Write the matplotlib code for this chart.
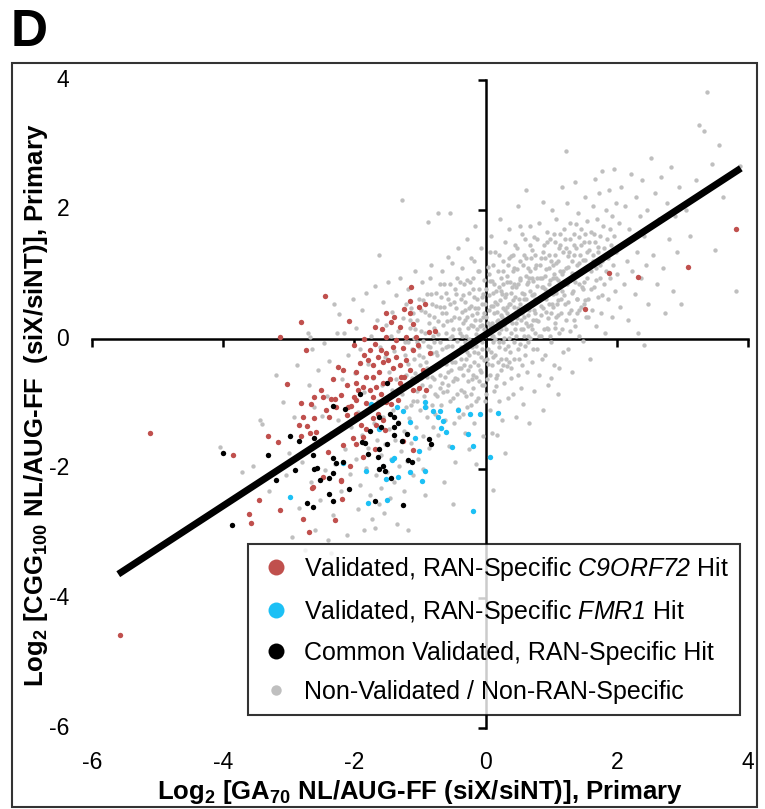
import numpy as np
import matplotlib
matplotlib.use("Agg")
import matplotlib.pyplot as plt
from matplotlib.lines import Line2D
from matplotlib.patches import Rectangle

plt.rcParams['font.family'] = 'Liberation Sans'
plt.rcParams['mathtext.fontset'] = 'custom'
plt.rcParams['mathtext.rm'] = 'Liberation Sans'
plt.rcParams['mathtext.sf'] = 'Liberation Sans:italic'   # used for italic gene names (digits too)
plt.rcParams['mathtext.bf'] = 'Liberation Sans:bold'

#%% Data (log2 ratios)
ticks = [-6, -4, -2, 0, 2, 4]

# linear fit drawn across the data range
fit_slope = 0.66
fit_intercept = 0.07
fit_x = [-5.60, 3.89]

red_pts = [
    (-2.45, 0.67), (-2.82, 0.27), (-2.09, 0.28), (-3.13, 0.04), (-2.74, -0.17), (-1.14, 0.80),
    (-1.15, 0.59), (-1.25, 0.47), (-1.52, 0.41), (-1.40, 0.35), (-1.15, 0.41), (-1.02, 0.49),
    (-0.93, 0.55), (-1.58, 0.16), (-1.68, 0.19), (-1.11, 0.23), (-0.87, 0.11), (-0.77, 0.12),
    (-1.86, -0.00), (-2.00, -0.09), (-1.52, 0.03), (-1.06, 0.03), (-1.03, -0.09), (-3.03, -0.69),
    (-3.32, -1.49), (-3.16, -1.58), (-3.85, -1.79), (-3.45, -2.48), (-3.60, -2.69), (-3.57, -2.84),
    (-3.13, -2.63), (-2.79, -2.77), (-2.29, -2.79), (-2.81, -0.98), (-2.66, -1.00), (-2.51, -0.79),
    (-2.48, -0.89), (-2.61, -0.89), (-2.79, -1.20), (-2.61, -1.22), (-2.73, -1.34), (-2.84, -1.33),
    (-2.58, -1.43), (-2.68, -1.45), (-2.81, -1.50), (-2.43, -1.10), (-2.33, -0.62), (-2.25, -0.43),
    (-2.12, -0.71), (-2.20, -0.86), (-2.30, -0.92), (-2.28, -1.04), (-2.38, -1.20), (-2.12, -1.17),
    (-2.05, -1.03), (-2.01, -0.89), (-1.98, -0.68), (-1.98, -0.50), (-1.92, -0.37), (-1.85, -0.25),
    (-1.77, -0.17), (-1.79, -0.32), (-1.72, -0.40), (-1.64, -0.27), (-1.57, -0.35), (-1.62, -0.50),
    (-1.72, -0.58), (-1.82, -0.58), (-1.87, -0.74), (-1.77, -0.79), (-1.67, -0.74), (-1.57, -0.68),
    (-1.46, -0.61), (-1.41, -0.45), (-1.49, -0.32), (-1.36, -0.27), (-1.31, -0.40), (-1.21, -0.32),
    (-1.11, -0.17), (-1.16, -0.48), (-1.24, -0.58), (-1.31, -0.68), (-1.18, -0.71), (-1.11, -0.79),
    (-1.01, -0.76), (-0.91, -0.79), (-1.06, -0.63), (-0.96, -0.48), (-0.85, -0.22), (-1.72, -0.89),
    (-1.59, -0.84), (-1.52, -0.97), (-1.44, -1.00), (-1.34, -0.94), (-1.82, -0.99), (-1.97, -1.15),
    (-1.90, -1.33), (-1.82, -1.38), (-1.72, -1.22), (-1.67, -1.33), (-1.57, -1.25), (-1.54, -1.40),
    (-2.02, -1.53), (-1.97, -1.61), (-1.87, -1.51), (-2.40, -1.74), (-2.18, -1.64), (-1.87, -1.82),
    (-2.07, -1.95), (-1.69, -1.69), (-1.11, -1.71), (-1.26, -1.57), (-2.63, -2.28), (-2.48, -2.13),
    (-2.20, -2.18), (-2.19, -2.47), (-2.58, -1.61), (-2.35, -0.92), (-2.18, -0.48), (-2.10, -1.04),
    (-1.95, -0.79), (-1.97, -0.94), (-1.72, -1.04), (-1.64, -1.15), (-1.39, -0.84), (-1.31, -0.79),
    (-1.29, -0.58), (-1.52, -0.22), (-1.59, -0.17), (-1.69, -0.07), (-1.41, -0.12), (-1.26, -0.14),
    (-1.36, -0.01), (-1.21, 0.04), (-1.31, 0.19), (-1.44, 0.27), (-2.70, -2.98), (-2.20, -2.19),
    (-2.64, -2.29), (-5.58, -4.56), (-5.12, -1.45), (3.81, 1.70), (3.08, 1.11), (2.33, 0.96),
    (1.88, 1.02), (1.51, 0.46),
]

blue_pts = [
    (-1.75, -1.00), (-1.35, -1.05), (-1.26, -1.11), (-1.16, -1.28), (-1.62, -1.38), (-0.92, -0.97),
    (-0.93, -1.04), (-0.80, -1.11), (-0.69, -1.11), (-0.73, -1.20), (-0.65, -1.26), (-0.68, -1.37),
    (-0.61, -1.43), (-0.42, -1.10), (-0.24, -1.15), (-0.08, -1.16), (0.19, -1.14), (-0.27, -1.46),
    (-0.20, -1.65), (-0.52, -1.67), (0.07, -1.81), (-0.19, -2.65), (-1.02, -1.73), (-1.08, -1.52),
    (-1.39, -1.83), (-1.42, -1.87), (-1.82, -2.04), (-1.52, -2.15), (-1.33, -2.13), (-1.16, -2.05),
    (-0.93, -2.03), (-0.97, -2.19), (-1.51, -2.48), (-1.79, -2.52), (-2.98, -2.44), (-2.18, -1.91),
]

black_pts = [
    (-4.00, -1.76), (-3.87, -2.87), (-3.32, -1.78), (-3.19, -2.17), (-2.90, -2.02), (-2.98, -1.50),
    (-2.85, -1.57), (-2.61, -1.52), (-2.33, -1.03), (-2.15, -1.08), (-1.92, -0.85), (-1.51, -0.67),
    (-2.63, -1.78), (-2.61, -2.00), (-2.57, -1.98), (-2.53, -2.17), (-2.39, -2.14), (-2.33, -2.07),
    (-2.33, -1.84), (-2.28, -1.91), (-2.18, -1.89), (-2.09, -2.31), (-2.38, -2.39), (-2.32, -2.50),
    (-2.72, -2.53), (-2.63, -2.59), (-1.89, -1.59), (-1.84, -1.60), (-1.79, -1.77), (-1.76, -1.41),
    (-1.63, -1.20), (-1.59, -1.36), (-1.46, -1.16), (-1.39, -1.20), (-1.34, -1.29), (-1.40, -1.35),
    (-1.40, -1.48), (-1.50, -1.62), (-1.62, -1.69), (-1.64, -1.82), (-1.62, -2.00), (-1.57, -1.95),
    (-1.54, -2.03), (-1.45, -2.14), (-1.69, -2.49), (-1.26, -2.56), (-1.28, -1.57), (-1.20, -1.47),
    (-1.19, -1.87), (-1.12, -1.90), (-0.86, -1.54), (-0.84, -1.62),
]

grey_pts = [
    # far left, sparse
    (-4.05, -1.67), (-3.72, -2.05), (-3.55, -1.95), (-3.41, -1.31), (-3.44, -1.24), (-3.30, -2.35),
    (-3.20, -0.55), (-3.09, -0.97), (-3.05, -2.10), (-3.00, -1.75), (-2.95, -3.05), (-2.92, -1.20),
    (-2.88, -0.40), (-2.85, -2.60), (-2.80, -1.90), (-2.75, -3.25), (-2.71, 0.09), (-2.68, 0.04),
    (-2.70, -0.70), (-2.66, -2.20), (-2.62, -1.05), (-2.60, -2.95), (-2.64, -0.15), (-2.35, -3.30),
    # -2.6 .. -2.0
    (-2.58, -1.62), (-2.55, -0.48), (-2.52, -2.48), (-2.49, -1.18), (-2.47, -0.06), (-2.45, -2.02),
    (-2.42, -0.88), (-2.40, -3.10), (-2.38, -0.33), (-2.36, -1.45), (-2.33, -2.72), (-2.31, 0.55),
    (-2.29, -1.92), (-2.27, 0.09), (-2.25, -1.25), (-2.23, 0.39), (-2.21, -2.35), (-2.19, -0.62),
    (-2.16, 0.09), (-2.14, -1.70), (-2.12, -3.02), (-2.10, -0.25), (-2.07, -2.08), (-2.05, -1.35),
    (-2.02, 0.62),
    # -2.0 .. -1.6
    (-1.99, -0.52), (-1.98, -1.85), (-1.97, 0.18), (-1.95, -2.62), (-1.94, -1.12), (-1.92, -0.15),
    (-1.91, -2.25), (-1.89, 0.45), (-1.88, -1.48), (-1.86, -0.82), (-1.85, -2.95), (-1.83, -1.98),
    (-1.82, 0.72), (-1.80, -0.38), (-1.79, -1.68), (-1.77, -2.40), (-1.76, -1.02), (-1.74, 0.05),
    (-1.73, -2.78), (-1.71, -0.60), (-1.70, -1.30), (-1.69, -2.92), (-1.68, 0.82), (-1.67, -2.10),
    (-1.66, -1.55), (-1.65, 0.30), (-1.64, -0.95), (-1.63, -2.55), (-1.62, 1.30), (-1.61, -0.12),
    (-1.60, -1.78),
    # -1.6 .. -1.2
    (-1.59, -2.30), (-1.58, -0.70), (-1.57, 0.58), (-1.56, -1.20), (-1.55, -2.68), (-1.54, -0.28),
    (-1.53, -1.62), (-1.52, 0.22), (-1.51, -2.05), (-1.50, -0.92), (-1.49, 0.88), (-1.48, -1.38),
    (-1.47, -0.50), (-1.46, -2.45), (-1.45, 0.05), (-1.44, -1.85), (-1.43, -0.78), (-1.42, 0.42),
    (-1.41, -1.10), (-1.40, -2.20), (-1.39, -0.18), (-1.38, -1.55), (-1.37, 0.68), (-1.36, -0.62),
    (-1.35, -2.85), (-1.34, -1.28), (-1.33, 0.12), (-1.32, -1.95), (-1.31, -0.40), (-1.30, 0.95),
    (-1.29, -1.72), (-1.28, 2.15), (-1.27, -0.85), (-1.26, 0.32), (-1.25, -1.42), (-1.24, -2.35),
    (-1.23, -0.05), (-1.22, -1.05), (-1.21, 0.55), (-1.20, -1.88), (-1.19, -2.94), (-1.21, -0.55),
    (-1.23, -0.25),
    # -1.2 .. -0.8
    (-1.19, 0.78), (-1.18, -0.38), (-1.17, -1.22), (-1.16, 0.18), (-1.15, -0.70), (-1.14, -1.60),
    (-1.13, 0.48), (-1.12, -0.15), (-1.11, -2.10), (-1.10, -0.95), (-1.09, 0.02), (-1.08, 1.05),
    (-1.07, -0.52), (-1.06, -1.35), (-1.05, 0.30), (-1.04, -0.80), (-1.03, -1.85), (-1.02, 0.62),
    (-1.01, -0.25), (-1.00, -1.10), (-0.99, 0.12), (-0.98, -0.60), (-0.97, 0.88), (-0.96, -1.50),
    (-0.95, -0.02), (-0.94, -0.88), (-0.93, 0.42), (-0.92, -2.40), (-0.91, -0.35), (-0.90, -1.20),
    (-0.89, 0.70), (-0.88, 1.81), (-0.88, -0.10), (-0.87, -1.68), (-0.86, 0.25), (-0.85, -0.72),
    (-0.84, 1.15), (-0.83, -0.45), (-0.82, -1.02), (-0.81, 0.55), (-0.80, -1.35), (-0.80, 0.05),
    (-0.82, -0.22), (-0.85, 0.95), (-0.90, -0.58), (-0.95, 0.60), (-1.00, -0.40), (-1.05, -0.05),
    (-1.10, 0.40), (-0.96, -2.00), (-1.13, -1.02),
    # -0.8 .. -0.4
    (-0.79, -0.62), (-0.78, 0.35), (-0.77, -1.15), (-0.76, -0.20), (-0.75, 0.72), (-0.74, -0.88),
    (-0.73, 0.08), (-0.72, 1.95), (-0.72, -1.48), (-0.71, -0.42), (-0.70, 0.50), (-0.69, -0.05),
    (-0.68, -1.02), (-0.67, 1.05), (-0.66, -0.68), (-0.65, 0.22), (-0.64, -2.21), (-0.64, -0.30),
    (-0.63, 0.85), (-0.62, -1.25), (-0.61, -0.12), (-0.60, 0.40), (-0.59, -0.80), (-0.58, 1.27),
    (-0.58, -0.50), (-0.57, 0.62), (-0.56, -1.65), (-0.55, 1.95), (-0.55, 0.02), (-0.54, -0.95),
    (-0.53, 0.30), (-0.52, -0.35), (-0.51, 1.18), (-0.50, -2.55), (-0.50, -0.65), (-0.49, 0.15),
    (-0.48, -1.30), (-0.47, -1.90), (-0.47, 0.78), (-0.46, -0.22), (-0.45, 0.48), (-0.44, -0.85),
    (-0.43, -0.02), (-0.42, 1.40), (-0.42, -1.08), (-0.41, 0.32), (-0.40, -0.45), (-0.44, 0.95),
    (-0.52, -0.10), (-0.60, 0.10), (-0.68, 0.65), (-0.75, -0.40), (-0.62, -0.58), (-0.48, 0.58),
    (-0.70, -0.75), (-0.56, -0.28), (-0.66, 0.40), (-0.46, -0.60), (-0.78, -0.05), (-0.54, 0.85),
    # -0.4 .. 0.0
    (-0.39, 0.10), (-0.38, -0.78), (-0.38, 0.62), (-0.37, -0.30), (-0.36, 1.10), (-0.35, -1.15),
    (-0.35, 0.25), (-0.34, -0.55), (-0.33, 0.85), (-0.32, -0.05), (-0.31, -1.45), (-0.31, 0.45),
    (-0.30, -0.88), (-0.29, 1.55), (-0.29, -0.20), (-0.28, 0.35), (-0.27, -0.65), (-0.26, 0.72),
    (-0.26, -1.70), (-0.25, 0.00), (-0.24, -0.42), (-0.23, 1.25), (-0.23, -1.02), (-0.22, 0.52),
    (-0.21, -0.12), (-0.20, 0.95), (-0.20, -0.75), (-0.19, 0.20), (-0.18, -1.30), (-0.17, -0.35),
    (-0.17, 0.65), (-0.16, 1.75), (-0.15, -0.58), (-0.14, 0.08), (-0.14, -1.93), (-0.13, 0.40),
    (-0.12, -0.90), (-0.12, 1.05), (-0.11, -0.22), (-0.10, 0.78), (-0.09, -0.48), (-0.09, -1.15),
    (-0.08, 0.30), (-0.07, 1.40), (-0.06, -0.05), (-0.06, -0.70), (-0.05, 0.55), (-0.04, -1.50),
    (-0.03, 0.15), (-0.03, -0.32), (-0.02, 0.92), (-0.01, -0.95), (-0.36, 0.42), (-0.30, 0.05),
    (-0.25, -0.25), (-0.21, 0.38), (-0.15, -0.10), (-0.11, 0.48), (-0.05, 0.22), (-0.33, -0.40),
    (-0.27, 0.18), (-0.19, -0.55), (-0.13, 0.62), (-0.07, -0.28), (-0.02, 0.40), (-0.38, -0.12),
    (-0.24, 0.88), (-0.16, 0.30), (-0.10, -0.65), (-0.04, 0.70), (-0.32, 0.58), (-0.22, -0.85),
    (-0.08, 0.05), (-0.28, -1.05), (-0.18, 1.20),
    # 0.0 .. 0.4
    (0.01, 0.35), (0.02, -0.62), (0.03, 1.12), (0.04, -0.15), (0.05, 0.68), (0.06, -1.10),
    (0.07, 0.20), (0.08, 1.60), (0.09, -0.40), (0.10, 0.90), (0.10, -1.44), (0.11, 0.05),
    (0.12, -2.33), (0.12, 0.52), (0.13, -0.80), (0.14, 1.35), (0.15, -0.25), (0.16, 0.75),
    (0.17, -1.48), (0.17, 0.28), (0.18, -0.55), (0.19, 1.05), (0.20, 0.10), (0.21, -0.95),
    (0.22, 0.60), (0.22, 1.85), (0.23, -0.30), (0.24, 0.38), (0.25, -1.25), (0.26, 1.20),
    (0.26, -0.05), (0.27, 0.85), (0.28, -0.68), (0.29, 0.45), (0.30, -1.76), (0.30, 1.50),
    (0.31, 0.15), (0.32, -0.42), (0.33, 0.98), (0.34, -0.90), (0.35, 0.55), (0.35, 0.02),
    (0.36, 1.70), (0.37, -0.20), (0.38, 0.72), (0.39, -0.60), (0.39, 1.28), (0.05, 0.45),
    (0.08, -0.20), (0.11, 0.72), (0.14, 0.00), (0.18, 0.42), (0.21, -0.12), (0.25, 0.70),
    (0.28, 0.22), (0.32, 0.50), (0.36, 0.30), (0.02, 0.10), (0.06, 0.90), (0.15, 0.58),
    (0.19, -0.35), (0.24, 0.95), (0.29, -0.15), (0.33, 0.30), (0.37, 0.88), (0.04, -0.38),
    (0.09, 0.25), (0.13, 0.40), (0.20, 0.80), (0.27, -0.40), (0.31, 0.70), (0.38, 0.10),
    (0.16, -0.72), (0.23, 0.15), (0.34, 1.15), (0.07, 1.35), (0.12, -0.05), (0.26, 0.48),
    (0.35, -0.35), (0.01, -0.85),
    # 0.4 .. 0.8
    (0.40, 0.25), (0.41, -0.85), (0.42, 1.05), (0.43, 0.50), (0.44, -0.30), (0.45, 1.45),
    (0.46, 0.05), (0.47, -1.20), (0.47, 0.80), (0.48, 0.32), (0.49, 2.05), (0.50, -0.55),
    (0.51, 0.62), (0.52, 1.20), (0.52, -0.08), (0.53, 0.92), (0.54, -0.75), (0.55, 0.40),
    (0.56, 1.62), (0.57, 0.15), (0.57, -1.00), (0.58, 0.70), (0.59, 1.30), (0.60, -0.25),
    (0.61, 0.98), (0.62, 0.48), (0.62, 2.30), (0.63, -0.50), (0.64, 0.20), (0.65, 1.10),
    (0.66, -1.30), (0.67, 0.75), (0.67, 1.75), (0.68, 0.02), (0.69, 0.55), (0.70, -0.35),
    (0.71, 1.38), (0.72, 0.90), (0.72, 0.30), (0.73, -0.80), (0.74, 1.58), (0.75, 0.62),
    (0.76, 0.10), (0.77, 1.15), (0.78, -0.15), (0.79, 0.82), (0.42, 0.60), (0.45, 0.15),
    (0.50, 0.85), (0.54, 0.30), (0.58, 0.05), (0.63, 0.85), (0.68, 1.05), (0.73, 0.45),
    (0.77, 0.60), (0.44, 0.85), (0.49, -0.15), (0.53, 0.55), (0.60, 1.55), (0.65, 0.38),
    (0.70, 0.68), (0.75, 1.30), (0.41, 1.30), (0.48, 1.08), (0.55, -0.40), (0.61, 0.25),
    (0.66, 0.95), (0.71, 0.15), (0.78, 0.95), (0.46, 0.42), (0.52, 1.75), (0.59, 0.62),
    (0.64, -0.05), (0.69, 1.25), (0.76, 0.40),
    # 0.8 .. 1.2
    (0.80, 0.28), (0.81, 1.80), (0.82, -0.55), (0.83, 0.65), (0.84, 1.25), (0.85, 0.05),
    (0.86, 0.95), (0.87, 2.12), (0.87, -1.10), (0.88, 0.48), (0.89, 1.45), (0.90, -0.25),
    (0.91, 0.78), (0.92, 1.08), (0.93, 0.18), (0.94, 1.65), (0.95, -0.70), (0.96, 0.55),
    (0.97, 1.30), (0.98, 0.92), (0.99, -0.05), (1.00, 0.40), (1.01, 2.00), (1.02, 1.15),
    (1.03, 0.70), (1.04, -0.40), (1.05, 1.50), (1.06, 0.25), (1.07, 0.95), (1.08, 1.85),
    (1.09, 0.55), (1.10, -0.85), (1.11, 1.20), (1.12, 0.10), (1.13, 0.82), (1.14, 1.62),
    (1.15, 0.40), (1.16, 2.35), (1.17, 1.00), (1.18, -0.20), (1.19, 0.68), (0.83, 0.95),
    (0.88, 0.80), (0.92, 0.42), (0.96, 1.10), (1.00, 0.75), (1.04, 1.00), (1.08, 0.35),
    (1.12, 1.40), (1.16, 0.75), (0.85, 0.52), (0.90, 1.25), (0.94, 0.70), (0.98, 1.55),
    (1.02, 0.50), (1.06, 1.30), (1.10, 0.60), (1.14, 1.05), (1.18, 1.35), (1.22, 2.91),
    (0.86, -0.30), (1.00, -0.60), (1.12, -0.45), (0.95, 0.15),
    # 1.2 .. 1.6
    (1.20, 0.85), (1.21, 1.55), (1.22, 0.30), (1.23, 1.10), (1.24, 2.10), (1.25, 0.58),
    (1.26, -0.15), (1.27, 1.35), (1.28, 0.92), (1.29, 1.80), (1.30, 0.45), (1.31, 1.20),
    (1.32, -0.50), (1.33, 0.75), (1.34, 1.62), (1.35, 1.00), (1.36, 2.42), (1.37, 0.20),
    (1.38, 1.40), (1.39, 0.62), (1.40, 1.15), (1.41, 1.95), (1.42, 0.85), (1.43, 0.05),
    (1.44, 1.30), (1.45, 0.50), (1.46, 1.70), (1.47, 1.05), (1.48, -0.02), (1.49, 0.78),
    (1.50, 1.50), (1.51, 2.20), (1.52, 1.22), (1.53, 0.35), (1.54, 0.95), (1.55, 1.82),
    (1.56, 0.62), (1.57, 1.38), (1.58, 1.10), (1.59, -0.30), (1.25, 1.28), (1.30, 0.95),
    (1.35, 1.45), (1.40, 0.40), (1.45, 1.02), (1.50, 0.88), (1.55, 1.35), (1.28, 0.12),
    (1.42, 1.58), (1.52, 0.60),
    # 1.6 .. 2.0
    (1.60, 1.05), (1.61, 1.65), (1.62, 0.45), (1.63, 2.05), (1.64, 1.30), (1.65, 0.80),
    (1.66, 2.48), (1.67, 1.50), (1.68, 0.20), (1.69, 1.10), (1.70, 1.85), (1.71, 0.65),
    (1.72, 1.35), (1.73, 2.25), (1.74, 0.95), (1.75, 1.60), (1.76, 0.40), (1.77, 1.20),
    (1.78, 2.60), (1.79, 1.75), (1.80, 0.85), (1.81, 1.40), (1.82, 0.10), (1.83, 2.00),
    (1.84, 1.05), (1.85, 1.55), (1.86, 0.62), (1.87, 1.25), (1.88, 2.30), (1.89, 1.70),
    (1.90, 0.95), (1.91, 1.45), (1.92, 0.35), (1.93, 1.90), (1.94, 1.15), (1.95, 2.62),
    (1.96, 1.60), (1.97, 0.75), (1.98, 1.35), (1.99, 2.10),
    # 2.0 .. 2.5
    (2.01, 1.00), (2.03, 1.80), (2.05, 0.50), (2.07, 2.35), (2.09, 1.45), (2.11, 0.85),
    (2.13, 2.05), (2.15, 1.20), (2.17, 0.30), (2.19, 1.70), (2.21, 2.55), (2.23, 1.05),
    (2.25, 1.55), (2.27, 0.70), (2.29, 2.20), (2.31, 1.35), (2.33, 0.10), (2.35, 1.90),
    (2.37, 0.95), (2.39, 2.45), (2.41, 1.60), (2.42, -0.09), (2.44, 1.15), (2.46, 2.00),
    (2.48, 0.55), (2.50, 1.75), (2.52, 2.80),
    # right tail
    (2.55, 1.30), (2.58, 2.25), (2.61, 0.85), (2.64, 1.85), (2.67, 2.50), (2.70, 1.10),
    (2.73, 0.40), (2.76, 2.10), (2.79, 1.55), (2.82, 2.65), (2.85, 0.75), (2.88, 1.90),
    (2.92, 1.35), (2.95, 2.35), (2.98, 0.55), (3.05, 2.00), (3.12, 1.60), (3.20, 2.45),
    (3.25, 3.30), (3.33, 3.22), (3.38, 3.82), (3.45, 2.70), (3.49, 1.38), (3.56, 3.00),
    (3.62, 2.20), (3.81, 0.74), (3.88, 2.67),
]

# the dense core of the grey cloud around the origin
grey_core_pts = [
    (-1.18, -0.05), (-1.15, 0.30), (-1.12, -0.60), (-1.09, -0.30), (-1.07, 0.15), (-1.04, -0.95),
    (-1.02, -0.12), (-0.99, 0.45), (-0.97, -0.70), (-0.95, -0.28), (-0.93, 0.10), (-0.91, -1.05),
    (-0.89, -0.45), (-0.87, 0.38), (-0.85, -0.12), (-0.83, 0.70), (-0.81, -0.58), (-0.79, 0.18),
    (-0.77, -0.85), (-0.76, 0.52), (-0.74, -0.25), (-0.72, 0.28), (-0.70, -0.55), (-0.69, 0.85),
    (-0.67, -0.15), (-0.65, -0.82), (-0.63, 0.50), (-0.61, -0.38), (-0.60, 0.72), (-0.58, -0.10),
    (-0.59, 0.28), (-0.57, -0.70), (-0.55, 0.55), (-0.53, -0.48), (-0.51, 0.05), (-0.49, -0.90),
    (-0.48, 0.35), (-0.46, -0.35), (-0.45, 0.70), (-0.43, -0.62), (-0.41, 0.15), (-0.40, -1.20),
    (-0.39, 0.88), (-0.37, -0.45), (-0.36, 0.05), (-0.34, 0.68), (-0.33, -0.82), (-0.31, 0.30),
    (-0.30, -0.30), (-0.28, 0.92), (-0.27, -0.48), (-0.25, 0.48), (-0.24, -0.05), (-0.22, 0.22),
    (-0.21, -0.62), (-0.19, 0.78), (-0.18, -0.20), (-0.16, 0.48), (-0.15, -0.95), (-0.13, 0.15),
    (-0.12, -0.40), (-0.10, 1.05), (-0.09, 0.20), (-0.07, -0.50), (-0.06, 0.65), (-0.05, -0.15),
    (-0.04, 0.35), (-0.02, -0.70), (-0.01, 0.55), (-0.01, 0.05),
    (0.01, 0.78), (0.02, -0.30), (0.04, 0.25), (0.05, 1.00), (0.06, -0.55), (0.08, 0.52),
    (0.09, 0.05), (0.11, 1.15), (0.12, -0.28), (0.13, 0.85), (0.15, 0.18), (0.16, -0.60),
    (0.17, 0.55), (0.19, 0.30), (0.20, 1.30), (0.21, -0.05), (0.23, 0.75), (0.24, -0.48),
    (0.25, 0.35), (0.27, 1.05), (0.28, 0.02), (0.29, 0.65), (0.31, -0.30), (0.32, 0.88),
    (0.33, 0.40), (0.34, -0.10), (0.36, 1.25), (0.37, 0.55), (0.38, -0.45), (0.40, 0.80),
    (0.41, 0.38), (0.43, 1.10), (0.44, -0.05), (0.45, 0.65), (0.47, 0.25), (0.48, 1.40),
    (0.50, 0.48), (0.51, -0.30), (0.53, 0.95), (0.54, 0.15), (0.56, 0.72), (0.57, 1.15),
    (0.58, 0.35), (0.60, -0.10),
    (0.61, 0.62), (0.62, 1.25), (0.64, 0.05), (0.65, 0.88), (0.66, 0.45), (0.68, 1.45),
    (0.69, 0.22), (0.71, 0.95), (0.72, -0.15), (0.74, 0.70), (0.75, 1.10), (0.77, 0.30),
    (0.78, 1.55), (0.80, 0.62), (0.81, 0.05), (0.83, 1.15), (0.84, 0.38), (0.86, 0.80),
    (0.87, 1.35), (0.89, 0.15), (0.90, 0.98), (0.92, 0.62), (0.93, 1.50), (0.95, 0.32),
    (0.96, 0.85), (0.98, 0.05), (0.99, 1.20), (1.01, 0.55), (1.02, 0.95), (1.04, 1.62),
    (1.05, 0.18), (1.07, 0.72), (1.08, 1.18), (1.10, 0.38), (1.11, 0.92), (1.13, 1.45),
    (1.15, 0.62), (1.16, 0.15), (1.18, 1.05), (1.19, 1.70),
    (1.21, 0.55), (1.23, 1.40), (1.24, 0.85), (1.26, 1.12), (1.27, 0.40), (1.29, 1.55),
    (1.31, 0.72), (1.32, 1.02), (1.34, 0.30), (1.35, 1.30), (1.37, 0.88), (1.38, 1.78),
    (1.40, 0.62), (1.42, 1.18), (1.43, 0.45), (1.45, 1.45), (1.47, 0.80), (1.48, 1.22),
    (1.50, 0.55), (1.52, 1.62), (1.54, 1.08), (1.56, 0.35), (1.58, 1.50), (1.60, 0.78),
    (1.63, 1.20), (1.65, 1.62), (1.68, 0.92), (1.71, 1.42), (1.74, 1.15), (1.77, 0.68),
]

labels = [
    r"Validated, RAN-Specific $\mathsf{C9ORF72}$ Hit",
    r"Validated, RAN-Specific $\mathsf{FMR1}$ Hit",
    "Common Validated, RAN-Specific Hit",
    "Non-Validated / Non-RAN-Specific",
]
RED = "#C0504D"
BLUE = "#1CC0F5"
GREY = "#BFBFBF"

#%% Plot
fig = plt.figure(figsize=(7.65, 8.09), dpi=100)
ax = fig.add_axes([0.1203, 0.1001, 0.8575, 0.801])

gx, gy = np.array(grey_pts + grey_core_pts).T
rx, ry = np.array(red_pts).T
bx, by = np.array(blue_pts).T
kx, ky = np.array(black_pts).T

ax.scatter(gx, gy, s=10, color=GREY, lw=0, zorder=3)
ax.scatter(rx, ry, s=15, color=RED, lw=0, zorder=4)
ax.scatter(bx, by, s=15, color=BLUE, lw=0, zorder=4)
ax.scatter(kx, ky, s=15, color="black", lw=0, zorder=4)

xs = np.array(fit_x)
ax.plot(xs, fit_slope * xs + fit_intercept, color="black", lw=5, solid_capstyle="butt", zorder=5)

ax.set_xlim(-6, 4)
ax.set_ylim(-6, 4)
ax.spines["left"].set_position(("data", 0))
ax.spines["bottom"].set_position(("data", 0))
ax.spines["top"].set_visible(False)
ax.spines["right"].set_visible(False)
for s in ["left", "bottom"]:
    ax.spines[s].set_linewidth(1.8)
ax.set_xticks(ticks)
ax.set_yticks(ticks)
ax.tick_params(direction="out", length=5.5, width=1.8, labelleft=False, labelbottom=False)
ax.patch.set_alpha(0)

# tick labels sit on the outer edge, not next to the crossing axes
for t in ticks:
    ax.annotate(str(t), xy=(t, 0), xycoords=("data", "axes fraction"), xytext=(0, -24.5),
                textcoords="offset points", ha="center", va="center", fontsize=16.5)
    ax.annotate(str(t), xy=(0, t), xycoords=("axes fraction", "data"), xytext=(-16.5, 0),
                textcoords="offset points", ha="right", va="center", fontsize=16.5)

fig.text(420 / 765, 1 - 792 / 809, r"Log$_\mathbf{2}$ [GA$_\mathbf{70}$ NL/AUG-FF (siX/siNT)], Primary",
         ha="center", va="center", fontsize=18.5, fontweight="bold")
fig.text(36 / 765, 1 - 405 / 809, r"Log$_\mathbf{2}$ [CGG$_\mathbf{100}$ NL/AUG-FF  (siX/siNT)], Primary",
         ha="center", va="center", rotation=90, fontsize=18.5, fontweight="bold")

handles = [
    Line2D([], [], ls="", marker="o", markersize=11.5, color=RED, mew=0),
    Line2D([], [], ls="", marker="o", markersize=11.5, color=BLUE, mew=0),
    Line2D([], [], ls="", marker="o", markersize=11.5, color="black", mew=0),
    Line2D([], [], ls="", marker="o", markersize=7.5, color=GREY, mew=0),
]
leg = ax.legend(handles, labels, loc="lower right", bbox_to_anchor=(0.988, 0.02), fontsize=18,
                fancybox=False, edgecolor="black", framealpha=0.8, borderpad=0.45,
                labelspacing=0.6, handletextpad=0.4, handlelength=1.4, borderaxespad=0)
leg.get_frame().set_linewidth(1.5)
leg.set_zorder(6)

fig.add_artist(Rectangle((12 / 765, 2 / 809), 745 / 765, 744 / 809, transform=fig.transFigure,
                         fill=False, lw=1.5, ec="#333333"))
fig.text(11 / 765, 1 - 8 / 809, "D", ha="left", va="top", fontsize=37, fontweight="bold")

fig.savefig("out.png", dpi=100)
